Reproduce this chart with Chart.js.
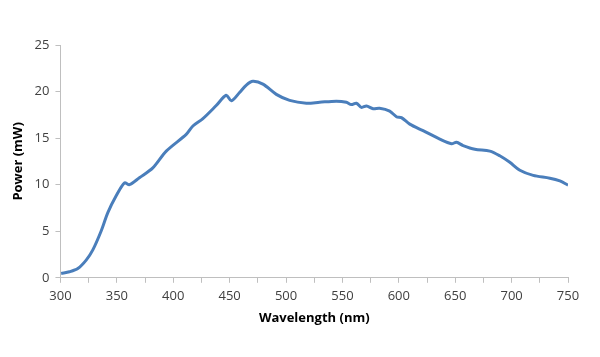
<!DOCTYPE html>
<html>
<head>
<meta charset="utf-8">
<script src="https://cdn.jsdelivr.net/npm/chart.js@4/dist/chart.umd.min.js"></script>
<style>
html,body{margin:0;padding:0;background:#fff;}
canvas{display:block;}
</style>
</head>
<body>
<canvas id="c" width="600" height="357"></canvas>
<script>
const wavelengths = [300.6, 308, 315.4, 322.8, 328.7, 336, 342, 349.4, 356.8, 361.2, 370, 381.9, 393.8, 411.5, 417.4, 426.3, 438.1, 447, 451.5, 458.8, 464.8, 470.6, 479.5, 491.4, 503.2, 518, 529.8, 544.6, 553.5, 557.9, 562.4, 566.8, 571.3, 577.2, 582.9, 591.9, 597.9, 602.3, 609.7, 621.5, 636.3, 646.7, 651.1, 657, 667.4, 680.7, 689.5, 698.4, 707.3, 719.1, 733.9, 742.8, 750];
const power = [0.47, 0.65, 1.0, 1.9, 3.0, 5.0, 7.0, 8.8, 10.2, 10.0, 10.75, 11.8, 13.6, 15.4, 16.3, 17.1, 18.5, 19.6, 19.0, 19.9, 20.7, 21.1, 20.8, 19.7, 19.05, 18.75, 18.85, 18.97, 18.85, 18.6, 18.75, 18.3, 18.45, 18.15, 18.2, 17.9, 17.3, 17.2, 16.5, 15.8, 14.9, 14.4, 14.55, 14.2, 13.8, 13.6, 13.1, 12.4, 11.55, 11.0, 10.7, 10.4, 9.95];
const xTitle = 'Wavelength (nm)';
const yTitle = 'Power (mW)';

const points = wavelengths.map((w, i) => ({x: w, y: power[i]}));
const font = "'Open Sans', 'Liberation Sans', sans-serif";
const axisColor = '#bfbfbf';
const textColor = '#404040';

new Chart(document.getElementById('c'), {
  type: 'line',
  data: {
    datasets: [{
      data: points,
      borderColor: '#4a7ebb',
      borderWidth: 3,
      pointRadius: 0,
      tension: 0.3,
      fill: false
    }]
  },
  options: {
    responsive: false,
    animation: false,
    layout: {padding: {left: 2, right: 32, top: 45, bottom: 31}},
    plugins: {legend: {display: false}, tooltip: {enabled: false}},
    scales: {
      x: {
        type: 'linear',
        min: 300, max: 750,
        border: {color: axisColor, width: 1},
        grid: {drawOnChartArea: false, color: axisColor, tickLength: 5},
        ticks: {
          stepSize: 25,
          autoSkip: false,
          maxRotation: 0,
          color: textColor,
          font: {family: font, size: 13},
          padding: 6,
          callback: v => (v % 50 === 0 ? String(v) : '')
        },
        title: {display: true, text: xTitle, color: '#000', font: {family: font, size: 13, weight: 'bold'}, padding: {top: 0, bottom: 0}}
      },
      y: {
        min: 0, max: 25,
        border: {color: axisColor, width: 1},
        grid: {drawOnChartArea: false, color: axisColor, tickLength: 5},
        ticks: {
          stepSize: 5,
          color: textColor,
          font: {family: font, size: 13},
          padding: 6
        },
        title: {display: true, text: yTitle, color: '#000', font: {family: font, size: 13, weight: 'bold'}, padding: {top: 8, bottom: 3}}
      }
    }
  }
});
</script>
</body>
</html>
